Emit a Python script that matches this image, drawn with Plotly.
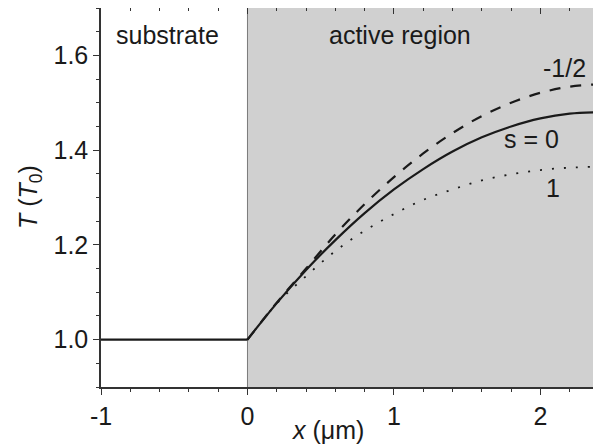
import plotly.graph_objects as go

# ---- data ----
x_sub = [-1.0, 0.0]
T_sub = [1.0, 1.0]

x_act = [0.0, 0.2, 0.4, 0.6, 0.8, 1.0, 1.2, 1.4, 1.6, 1.8, 2.0, 2.2, 2.4]
T_s0 = [1.000, 1.077, 1.147, 1.210, 1.267, 1.317, 1.360, 1.397, 1.427, 1.450, 1.467, 1.477, 1.480]
T_sm12 = [1.000, 1.078, 1.150, 1.222, 1.286, 1.343, 1.393, 1.436, 1.472, 1.500, 1.521, 1.534, 1.539]
T_s1 = [1.000, 1.076, 1.134, 1.187, 1.230, 1.265, 1.295, 1.317, 1.336, 1.349, 1.358, 1.363, 1.365]

active_region = [0.0, 2.4]
x_range = [-1.0, 2.4]
y_range = [0.9, 1.7]
x_ticks = [-1, 0, 1, 2]
y_ticks = [1.0, 1.2, 1.4, 1.6]
y_ticklabels = ["1.0", "1.2", "1.4", "1.6"]

FONT = "Liberation Sans, Arial, sans-serif"
INK = "#1a1a1a"
AX = "#333333"

# page has an 8px body margin: figure is drawn at (8, 8)
OFF = 8
W, H = 601 - OFF, 445 - OFF
L, R, T, B = 101 - OFF, 2, 8 - OFF, 58
pw, ph = W - L - R, H - T - B


def px_to_paper(px, py):
    return (px - OFF - L) / pw, 1 - (py - OFF - T) / ph


fig = go.Figure()

fig.add_trace(go.Scatter(x=x_sub, y=T_sub, mode="lines",
                         line=dict(color=INK, width=2.2), showlegend=False))
fig.add_trace(go.Scatter(x=x_act, y=T_s0, mode="lines",
                         line=dict(color=INK, width=2.2, shape="spline"), showlegend=False))
fig.add_trace(go.Scatter(x=x_act, y=T_sm12, mode="lines",
                         line=dict(color=INK, width=2.2, dash="11px,10px", shape="spline"), showlegend=False))
fig.add_trace(go.Scatter(x=x_act, y=T_s1, mode="lines",
                         line=dict(color=INK, width=1.8, dash="2px,10px", shape="spline"), showlegend=False))
fig.add_trace(go.Scatter(x=[None], y=[None], xaxis="x2", yaxis="y2", showlegend=False))

fig.add_shape(type="rect", xref="x", yref="y domain", x0=active_region[0], x1=active_region[1],
              y0=0, y1=1, fillcolor="#d0d0d0", line=dict(width=0), layer="below")
fig.add_shape(type="line", xref="x", yref="y domain", x0=active_region[0], x1=active_region[0],
              y0=0, y1=1, line=dict(color="#7a7a7a", width=1), layer="below")

ann_font = dict(family=FONT, size=25, color=INK)
for text, x, y in [("substrate", -0.544, 1.644), ("active region", 1.04, 1.644),
                   ("-1/2", 2.163, 1.573), ("s = 0", 1.939, 1.424), ("1", 2.088, 1.321)]:
    fig.add_annotation(x=x, y=y, xref="x", yref="y", text=text, showarrow=False, font=ann_font,
                       xanchor="center", yanchor="middle")

ax_, ay_ = px_to_paper(328, 430)
fig.add_annotation(x=ax_, y=ay_, xref="paper", yref="paper", text="<i>x</i> (μm)", showarrow=False,
                   font=ann_font, xanchor="center", yanchor="middle")
tx_, ty_ = px_to_paper(30, 197)
fig.add_annotation(x=tx_, y=ty_, xref="paper", yref="paper", text="<i>T</i> (<i>T</i><sub>0</sub>)",
                   showarrow=False, textangle=-90, font=ann_font, xanchor="center", yanchor="middle")

axis_common = dict(showline=True, linecolor=AX, linewidth=1.5, showgrid=False, zeroline=False,
                   tickcolor=AX, tickwidth=1.2, mirror=False)

fig.update_layout(
    width=W, height=H,
    margin=dict(l=L, r=R, t=T, b=B, pad=0),
    paper_bgcolor="white", plot_bgcolor="white",
    font=dict(family=FONT, size=25, color=INK),
    xaxis=dict(range=x_range, tickvals=x_ticks, ticktext=[str(v) for v in x_ticks], ticks="outside", ticklen=6,
               minor=dict(dtick=0.2, ticks="outside", ticklen=3, tickcolor=AX),
               tickfont=dict(size=25), **axis_common),
    yaxis=dict(range=y_range, tickvals=y_ticks, ticktext=y_ticklabels, ticks="outside", ticklen=6,
               minor=dict(dtick=0.05, ticks="outside", ticklen=3, tickcolor=AX),
               tickfont=dict(size=25), **axis_common),
    xaxis2=dict(range=x_range, overlaying="x", side="top", tickvals=x_ticks, ticks="inside", ticklen=6,
                showticklabels=False, minor=dict(dtick=0.2, ticks="inside", ticklen=3, tickcolor=AX),
                **axis_common),
    yaxis2=dict(range=y_range, overlaying="y", side="right", tickvals=y_ticks, ticks="inside", ticklen=6,
                showticklabels=False, minor=dict(dtick=0.05, ticks="inside", ticklen=3, tickcolor=AX),
                **axis_common),
)

fig.write_html("out.html")
